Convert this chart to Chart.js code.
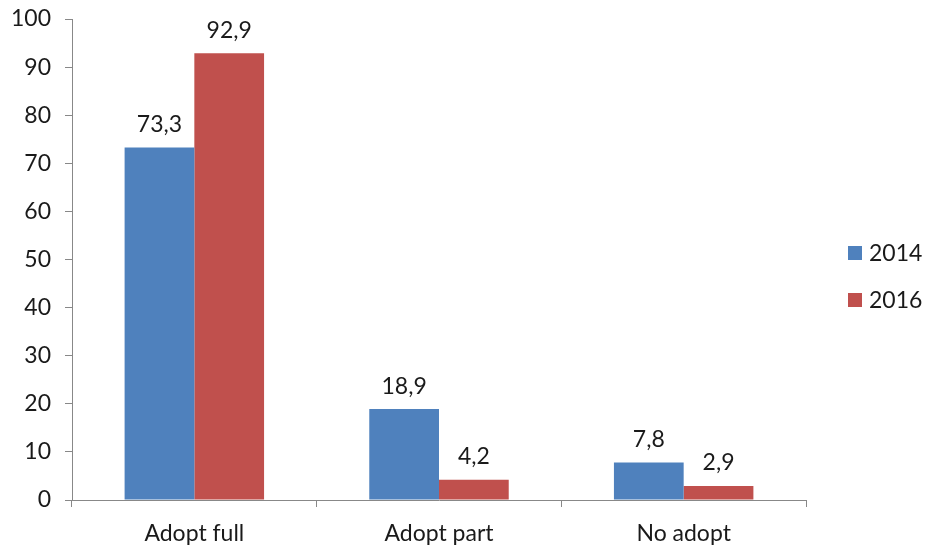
<!DOCTYPE html>
<html>
<head>
<meta charset="utf-8">
<script src="https://cdn.jsdelivr.net/npm/chart.js@4"></script>
<style>
  html, body { margin: 0; padding: 0; background: #fff; }
  #wrap { width: 927px; height: 550px; }
</style>
</head>
<body>
<div id="wrap"><canvas id="chart" width="927" height="550"></canvas></div>
<script>
const categories = ['Adopt full', 'Adopt part', 'No adopt'];
const seriesNames = ['2014', '2016'];
const values2014 = [73.3, 18.9, 7.8];
const values2016 = [92.9, 4.2, 2.9];
const seriesColors = ['#4F81BD', '#C0504D'];

const FONT = 'Lato, "Open Sans", sans-serif';

// value labels above bars, written with a decimal comma
const barLabels = {
    id: 'barLabels',
    afterDatasetsDraw: function (chart) {
        let ctx = chart.ctx;
        ctx.save();
        ctx.font = '23px ' + FONT;
        ctx.fillStyle = '#1a1a1a';
        ctx.textAlign = 'center';
        ctx.textBaseline = 'middle';
        chart.data.datasets.forEach(function (ds, i) {
            chart.getDatasetMeta(i).data.forEach(function (bar, j) {
                let txt = ds.data[j].toFixed(1).replace('.', ',');
                ctx.fillText(txt, bar.x, bar.y - 23);
            });
        });
        ctx.restore();
    }
};

// legend on the right, square swatches
const sideLegend = {
    id: 'sideLegend',
    afterDraw: function (chart) {
        let ctx = chart.ctx;
        ctx.save();
        ctx.font = '23px ' + FONT;
        ctx.textBaseline = 'middle';
        chart.data.datasets.forEach(function (ds, i) {
            let y = 253 + i * 47;
            ctx.fillStyle = ds.backgroundColor;
            ctx.fillRect(848, y - 7, 14, 14);
            ctx.fillStyle = '#1a1a1a';
            ctx.fillText(ds.label, 869, y + 1);
        });
        ctx.restore();
    }
};

new Chart(document.getElementById('chart').getContext('2d'), {
    type: 'bar',
    plugins: [barLabels, sideLegend],
    data: {
        labels: categories,
        datasets: [
            { label: seriesNames[0], data: values2014, backgroundColor: seriesColors[0] },
            { label: seriesNames[1], data: values2016, backgroundColor: seriesColors[1] }
        ]
    },
    options: {
        responsive: false,
        animation: false,
        layout: { padding: { left: 0, top: 19, right: 121, bottom: 0 } },
        datasets: {
            bar: { categoryPercentage: 0.57, barPercentage: 1.0 }
        },
        plugins: {
            legend: { display: false },
            tooltip: { enabled: false },
            title: { display: false }
        },
        scales: {
            x: {
                grid: {
                    offset: true,
                    drawOnChartArea: false,
                    tickLength: 7,
                    color: '#888'
                },
                border: { color: '#888' },
                ticks: {
                    color: '#1a1a1a',
                    padding: 13,
                    font: { family: FONT, size: 23 }
                },
                afterFit: function (scale) { scale.height = 50; }
            },
            y: {
                min: 0,
                max: 100,
                ticks: {
                    stepSize: 10,
                    color: '#1a1a1a',
                    padding: 14,
                    font: { family: FONT, size: 23 }
                },
                grid: {
                    drawOnChartArea: false,
                    tickLength: 7,
                    color: '#888'
                },
                border: { color: '#888' },
                afterFit: function (scale) {
                    scale.width = 72;
                    scale.paddingTop = 0;
                    scale.paddingBottom = 0;
                }
            }
        }
    }
});
</script>
</body>
</html>
